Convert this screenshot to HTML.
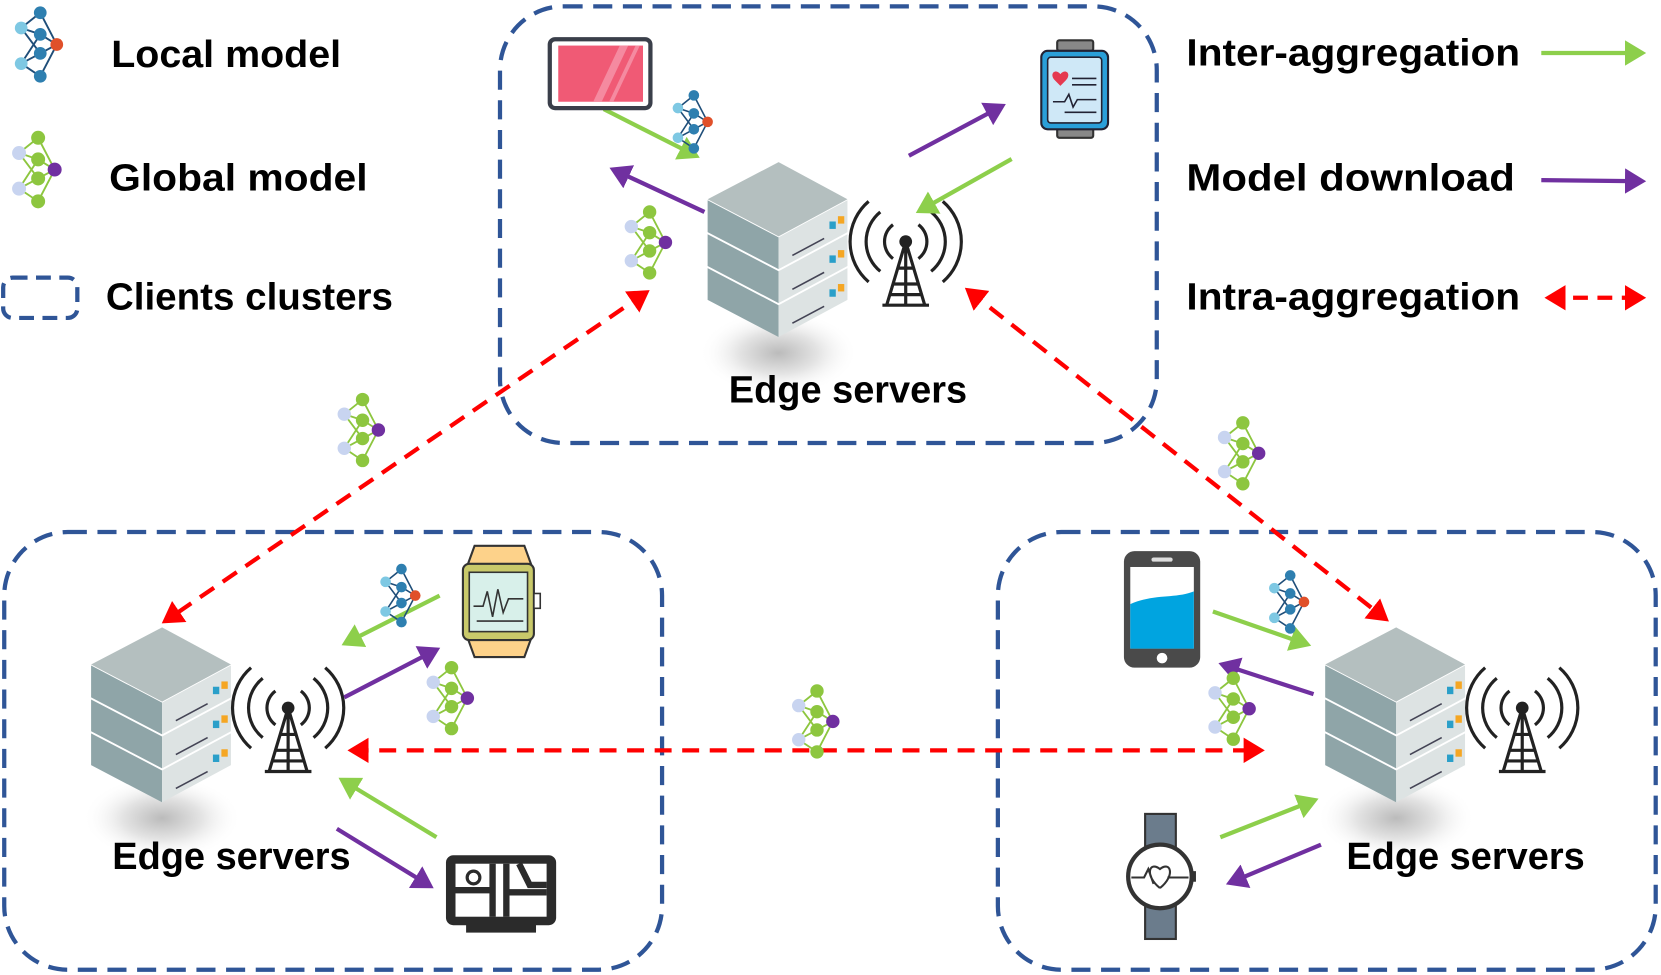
<!DOCTYPE html>
<html><head><meta charset="utf-8"><style>
html,body{margin:0;padding:0;background:#fff}
svg{display:block}
text{font-family:"Liberation Sans",sans-serif;font-weight:bold;fill:#000}
</style></head><body>
<svg width="1661" height="975" viewBox="0 0 1568 920" preserveAspectRatio="none" xmlns="http://www.w3.org/2000/svg">
<defs>
<marker id="ag" markerWidth="6" markerHeight="6" refX="4" refY="3" orient="auto" markerUnits="strokeWidth"><path d="M0,0 L5,3 L0,6 Z" fill="#8dcf4b"/></marker>
<marker id="ap" markerWidth="6" markerHeight="6" refX="4" refY="3" orient="auto" markerUnits="strokeWidth"><path d="M0,0 L5,3 L0,6 Z" fill="#7030a0"/></marker>
<marker id="ar" markerWidth="6" markerHeight="6" refX="4" refY="3" orient="auto-start-reverse" markerUnits="strokeWidth"><path d="M0,0 L5,3 L0,6 Z" fill="#f00"/></marker>
<radialGradient id="sh"><stop offset="0" stop-color="#bbb"/><stop offset="0.5" stop-color="#e4e4e4"/><stop offset="1" stop-color="#fff" stop-opacity="0"/></radialGradient>
<g id="local">
<g stroke="#1f4e79" stroke-width="1.5"><path d="M0,12 L15,0 M0,12 L15,17 M0,12 L15,32 M0,40 L15,17 M0,40 L15,32 M0,40 L15,50 M15,0 L28,25 M15,17 L28,25 M15,32 L28,25 M15,50 L28,25"/></g>
<circle cx="0" cy="12" r="5" fill="#7ec8e3"/><circle cx="0" cy="40" r="5" fill="#7ec8e3"/>
<circle cx="15" cy="0" r="5" fill="#2e7fb0"/><circle cx="15" cy="17" r="5" fill="#2e7fb0"/><circle cx="15" cy="32" r="5" fill="#2e7fb0"/><circle cx="15" cy="50" r="5" fill="#2e7fb0"/>
<circle cx="28" cy="25" r="5" fill="#e0502a"/>
</g>
<g id="global">
<g stroke="#8dc63f" stroke-width="1.5"><path d="M0,12 L15,0 M0,12 L15,17 M0,12 L15,32 M0,40 L15,17 M0,40 L15,32 M0,40 L15,50 M15,0 L28,25 M15,17 L28,25 M15,32 L28,25 M15,50 L28,25"/></g>
<circle cx="0" cy="12" r="5.5" fill="#c8d4f0"/><circle cx="0" cy="40" r="5.5" fill="#c8d4f0"/>
<circle cx="15" cy="0" r="5.5" fill="#8dc63f"/><circle cx="15" cy="17" r="5.5" fill="#8dc63f"/><circle cx="15" cy="32" r="5.5" fill="#8dc63f"/><circle cx="15" cy="50" r="5.5" fill="#8dc63f"/>
<circle cx="28" cy="25" r="5.5" fill="#7030a0"/>
</g>
<g id="server">
<ellipse cx="67" cy="180" rx="75" ry="40" fill="url(#sh)"/>
<path d="M0,100 L67,135 L67,165 L0,130 Z" fill="#8fa5a8"/>
<path d="M67,135 L132,100 L132,130 L67,165 Z" fill="#dde3e3"/>
<path d="M0,68 L67,103 L67,133 L0,98 Z" fill="#8fa5a8"/>
<path d="M67,103 L132,68 L132,98 L67,133 Z" fill="#dde3e3"/>
<path d="M0,36 L67,71 L67,101 L0,66 Z" fill="#8fa5a8"/>
<path d="M67,71 L132,36 L132,66 L67,101 Z" fill="#dde3e3"/>
<path d="M67,0 L132,35 L67,70 L0,35 Z" fill="#b4bfbf"/>
<g stroke="#445" stroke-width="1.5"><path d="M80,88 L110,72 M80,120 L110,104 M80,152 L110,136"/></g>
<rect x="115" y="56" width="6" height="7" fill="#2a9fc9"/><rect x="123" y="51" width="6" height="7" fill="#f5a623"/>
<rect x="115" y="88" width="6" height="7" fill="#2a9fc9"/><rect x="123" y="83" width="6" height="7" fill="#f5a623"/>
<rect x="115" y="120" width="6" height="7" fill="#2a9fc9"/><rect x="123" y="115" width="6" height="7" fill="#f5a623"/>
</g>
<g id="tower" fill="none" stroke="#222" stroke-width="3">
<circle cx="0" cy="0" r="6" fill="#222" stroke="none"/>
<path d="M0,0 L-18,60 M0,0 L18,60 M0,4 L0,60 M-12,40 L12,40 M-8,25 L8,25 M-14,50 L14,50 M-22,60 L22,60"/>
<path d="M-12,-16 A20,20 0 0 0 -12,16 M12,-16 A20,20 0 0 1 12,16"/>
<path d="M-24,-28 A36,36 0 0 0 -24,28 M24,-28 A36,36 0 0 1 24,28"/>
<path d="M-35,-38 A50,50 0 0 0 -35,38 M35,-38 A50,50 0 0 1 35,38"/>
</g>
</defs>

<g fill="none" stroke="#2f5597" stroke-width="4" stroke-dasharray="18 10">
<rect x="472" y="6" width="620" height="412" rx="60"/>
<rect x="4" y="502" width="621" height="413" rx="60"/>
<rect x="942" y="502" width="621" height="413" rx="60"/>
<rect x="3" y="262" width="70" height="38" rx="9" stroke-dasharray="14 8"/>
</g>

<g transform="translate(20,12) scale(1.2)"><use href="#local"/></g>
<g transform="translate(18,130) scale(1.2)"><use href="#global"/></g>
<text x="105" y="63" font-size="36" textLength="217" lengthAdjust="spacingAndGlyphs">Local model</text>
<text x="103" y="180" font-size="36" textLength="244" lengthAdjust="spacingAndGlyphs">Global model</text>
<text x="100" y="292" font-size="36" textLength="271" lengthAdjust="spacingAndGlyphs">Clients clusters</text>
<text x="1120" y="62" font-size="36" textLength="315" lengthAdjust="spacingAndGlyphs">Inter-aggregation</text>
<text x="1120" y="180" font-size="36" textLength="310" lengthAdjust="spacingAndGlyphs">Model download</text>
<text x="1120" y="292" font-size="36" textLength="315" lengthAdjust="spacingAndGlyphs">Intra-aggregation</text>
<line x1="1455" y1="50" x2="1550" y2="50" stroke="#8dcf4b" stroke-width="4" marker-end="url(#ag)"/>
<line x1="1455" y1="170" x2="1550" y2="171" stroke="#7030a0" stroke-width="4" marker-end="url(#ap)"/>
<line x1="1462" y1="281" x2="1550" y2="281" stroke="#f00" stroke-width="4" stroke-dasharray="14 9" marker-start="url(#ar)" marker-end="url(#ar)"/>

<use href="#server" x="668" y="153"/>
<use href="#server" x="86" y="592"/>
<use href="#server" x="1251" y="592"/>
<use href="#tower" x="855" y="228"/>
<use href="#tower" x="272" y="668"/>
<use href="#tower" x="1437" y="668"/>
<text x="688" y="380" font-size="36" textLength="225" lengthAdjust="spacingAndGlyphs">Edge servers</text>
<text x="106" y="820" font-size="36" textLength="225" lengthAdjust="spacingAndGlyphs">Edge servers</text>
<text x="1271" y="820" font-size="36" textLength="225" lengthAdjust="spacingAndGlyphs">Edge servers</text>

<g stroke="#f00" stroke-width="4" stroke-dasharray="16 10" fill="none">
<line x1="610" y1="276" x2="156" y2="586" marker-start="url(#ar)" marker-end="url(#ar)"/>
<line x1="914" y1="274" x2="1308" y2="584" marker-start="url(#ar)" marker-end="url(#ar)"/>
<line x1="332" y1="708" x2="1190" y2="708" marker-start="url(#ar)" marker-end="url(#ar)"/>
</g>

<g stroke-width="4">
<line x1="570" y1="103" x2="657" y2="147" stroke="#8dcf4b" marker-end="url(#ag)"/>
<line x1="665" y1="200" x2="579" y2="160" stroke="#7030a0" marker-end="url(#ap)"/>
<line x1="858" y1="147" x2="946" y2="100" stroke="#7030a0" marker-end="url(#ap)"/>
<line x1="955" y1="150" x2="868" y2="199" stroke="#8dcf4b" marker-end="url(#ag)"/>
<line x1="415" y1="562" x2="326" y2="607" stroke="#8dcf4b" marker-end="url(#ag)"/>
<line x1="325" y1="658" x2="412" y2="613" stroke="#7030a0" marker-end="url(#ap)"/>
<line x1="412" y1="790" x2="323" y2="736" stroke="#8dcf4b" marker-end="url(#ag)"/>
<line x1="318" y1="782" x2="406" y2="836" stroke="#7030a0" marker-end="url(#ap)"/>
<line x1="1145" y1="577" x2="1234" y2="608" stroke="#8dcf4b" marker-end="url(#ag)"/>
<line x1="1240" y1="655" x2="1154" y2="627" stroke="#7030a0" marker-end="url(#ap)"/>
<line x1="1152" y1="790" x2="1241" y2="755" stroke="#8dcf4b" marker-end="url(#ag)"/>
<line x1="1247" y1="797" x2="1161" y2="833" stroke="#7030a0" marker-end="url(#ap)"/>
</g>

<use href="#local" x="640" y="90"/>
<use href="#local" x="364" y="537"/>
<use href="#local" x="1203" y="543"/>
<g transform="translate(596,200) scale(1.15)"><use href="#global"/></g>
<g transform="translate(325,377) scale(1.15)"><use href="#global"/></g>
<g transform="translate(409,630) scale(1.15)"><use href="#global"/></g>
<g transform="translate(754,652) scale(1.15)"><use href="#global"/></g>
<g transform="translate(1156,399) scale(1.15)"><use href="#global"/></g>
<g transform="translate(1147,640) scale(1.15)"><use href="#global"/></g>

<rect x="519" y="37" width="95" height="65" rx="5" fill="#fff" stroke="#3a3f4a" stroke-width="4"/>
<rect x="527" y="43" width="80" height="53" fill="#f05a75"/>
<path d="M560,96 L585,43 L593,43 L568,96 Z M575,96 L600,43 L604,43 L579,96Z" fill="#f58aa0"/>
<rect x="998" y="38" width="34" height="10" rx="2" fill="#888" stroke="#333" stroke-width="2"/>
<rect x="998" y="120" width="34" height="10" rx="2" fill="#888" stroke="#333" stroke-width="2"/>
<rect x="983" y="48" width="63" height="74" rx="6" fill="#2a9fd9" stroke="#223" stroke-width="2"/>
<rect x="989" y="54" width="51" height="62" rx="3" fill="#cfe8f7" stroke="#223" stroke-width="1.5"/>
<path d="M996,76 C990,70 996,64 1001,70 C1006,64 1012,70 1006,76 L1001,81 Z" fill="#e53950"/>
<path d="M994,96 L1005,96 L1009,89 L1013,101 L1017,94 L1035,94 M1012,74 L1035,74 M1012,80 L1035,80 M1005,106 L1035,106" stroke="#223" stroke-width="1.5" fill="none"/>
<path d="M448,515 L495,515 L503,537 L440,537 Z M440,598 L503,598 L495,620 L448,620 Z" fill="#fdd28a" stroke="#333" stroke-width="2"/>
<rect x="437" y="532" width="67" height="72" rx="6" fill="#c9c96a" stroke="#333" stroke-width="2"/>
<rect x="443" y="540" width="55" height="56" fill="#d8f0ea" stroke="#333" stroke-width="1.5"/>
<rect x="504" y="560" width="6" height="14" fill="#fff" stroke="#333" stroke-width="1.5"/>
<path d="M447,572 L456,572 L460,558 L465,582 L470,556 L475,578 L480,565 L494,565 M450,586 L494,586" stroke="#333" stroke-width="1.5" fill="none"/>
<rect x="421" y="807" width="104" height="66" rx="7" fill="#2b2b2b"/>
<rect x="440" y="871" width="66" height="9" fill="#2b2b2b"/>
<rect x="430" y="815" width="86" height="50" fill="#fff"/>
<path d="M430,840 L465,840 M465,815 L465,865 M478,815 L478,865 M478,842 L516,842 M490,815 L500,835 L516,835" stroke="#2b2b2b" stroke-width="6" fill="none"/>
<circle cx="447" cy="828" r="6" fill="none" stroke="#2b2b2b" stroke-width="3"/>
<rect x="1061" y="520" width="72" height="110" rx="10" fill="#4a4a4a"/>
<rect x="1067" y="535" width="60" height="77" fill="#fff"/>
<path d="M1067,570 C1090,560 1110,565 1127,558 L1127,612 L1067,612 Z" fill="#00a4e0"/>
<rect x="1087" y="526" width="20" height="4" rx="2" fill="#ddd"/>
<circle cx="1097" cy="621" r="5" fill="#fff"/>
<rect x="1081" y="768" width="29" height="35" fill="#6b7c8c" stroke="#333" stroke-width="2"/>
<rect x="1081" y="851" width="29" height="35" fill="#6b7c8c" stroke="#333" stroke-width="2"/>
<circle cx="1095" cy="827" r="30" fill="#fff" stroke="#333" stroke-width="4"/>
<rect x="1124" y="822" width="5" height="10" fill="#333"/>
<path d="M1068,828 L1080,828 L1084,820 L1089,834 M1095,838 C1080,826 1085,812 1095,820 C1105,812 1110,826 1095,838 M1102,828 L1122,828" stroke="#333" stroke-width="2" fill="none"/>
</svg>
</body></html>
